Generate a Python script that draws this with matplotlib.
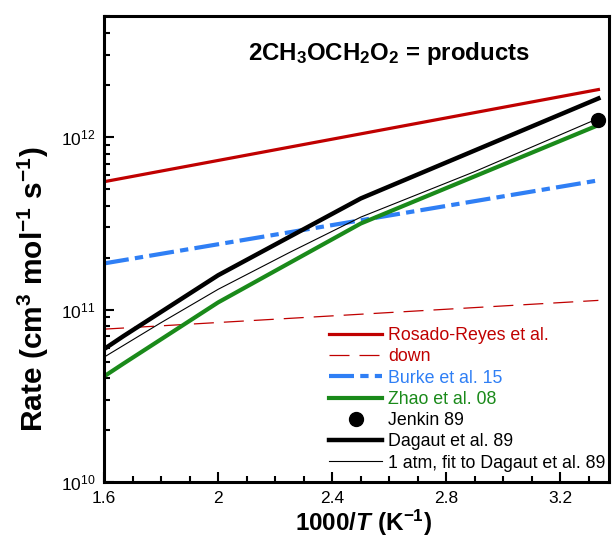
import matplotlib
matplotlib.use("Agg")
import matplotlib.pyplot as plt
from matplotlib.ticker import MultipleLocator, FixedLocator, LogLocator, NullFormatter, FuncFormatter

plt.rcParams['font.family'] = ['Liberation Sans', 'DejaVu Sans']
plt.rcParams['mathtext.fontset'] = 'custom'
plt.rcParams['mathtext.rm'] = 'Liberation Sans'
plt.rcParams['mathtext.it'] = 'Liberation Sans:italic'
plt.rcParams['mathtext.bf'] = 'Liberation Sans:bold'
plt.rcParams['mathtext.bfit'] = 'Liberation Sans:italic:bold'
plt.rcParams['mathtext.default'] = 'regular'

# 1000/T grid points (K^-1)
x_arr = [1.6, 3.333]
x_dag = [1.6, 1.667, 2.0, 2.5, 3.333]
x_fit = [1.6, 1.8, 2.0, 2.25, 2.5, 2.9, 3.333]

# rate constants, cm3 mol-1 s-1
k_rosado = [5.5e11, 1.88e12]
k_rosado_down = [7.7e10, 1.13e11]
k_burke = [1.85e11, 5.6e11]
k_zhao = [4.1e10, 4.85e10, 1.1e11, 3.15e11, 1.17e12]
k_dagaut = [5.9e10, 7.0e10, 1.58e11, 4.4e11, 1.67e12]
k_fit = [5.3e10, 8.4e10, 1.31e11, 2.14e11, 3.43e11, 6.3e11, 1.28e12]
x_jenkin = [3.333]
k_jenkin = [1.26e12]

red = '#c00000'
blue = '#2f7ff5'
green = '#1a8a1a'

fig = plt.figure(figsize=(6.12, 5.4), dpi=100)
ax = fig.add_axes([0.170, 0.107, 0.825, 0.863])

ax.plot(x_arr, k_rosado, color=red, lw=2.3, label='Rosado-Reyes et al.')
ax.plot(x_arr, k_rosado_down, color=red, lw=0.9, dashes=(16, 8), label='down')
ax.plot(x_arr, k_burke, color=blue, lw=3.0, dashes=(6, 1.5, 2, 1.5), label='Burke et al. 15')
ax.plot(x_dag, k_zhao, color=green, lw=3.0, label='Zhao et al. 08')
ax.plot(x_jenkin, k_jenkin, 'o', color='black', ms=10, label='Jenkin 89')
ax.plot(x_dag, k_dagaut, color='black', lw=3.2, label='Dagaut et al. 89')
ax.plot(x_fit, k_fit, color='black', lw=0.8, label='1 atm, fit to Dagaut et al. 89')

ax.set_yscale('log')
ax.set_xlim(1.6, 3.37)
ax.set_ylim(1e10, 5e12)

ax.xaxis.set_major_locator(FixedLocator([1.6, 2.0, 2.4, 2.8, 3.2]))
ax.xaxis.set_minor_locator(MultipleLocator(0.1))
ax.xaxis.set_major_formatter(FuncFormatter(lambda v, p: '%g' % v))
ax.yaxis.set_major_locator(LogLocator(base=10, numticks=10))
ax.yaxis.set_minor_locator(LogLocator(base=10, subs=range(2, 10), numticks=10))
ax.yaxis.set_minor_formatter(NullFormatter())

ax.tick_params(which='both', direction='in', top=False, right=False, width=1.5,
               labelsize=12.5, pad=6)
ax.tick_params(which='major', length=7)
ax.tick_params(which='minor', length=4.5)
for s in ax.spines.values():
    s.set_linewidth(2.2)

ax.set_xlabel(r'1000/$\mathbfit{T}$ (K$^{-1}$)', fontsize=17.5, fontweight='bold')
ax.xaxis.set_label_coords(0.514, -0.055)
ax.set_ylabel(r'Rate (cm$^3$ mol$^{-1}$ s$^{-1}$)', fontsize=21.5, fontweight='bold')
ax.yaxis.set_label_coords(-0.105, 0.413)

ax.text(2.6, 3.05e12, r'2CH$_3$OCH$_2$O$_2$ = products', ha='center', va='center',
        fontsize=17.3, fontweight='bold')

leg = ax.legend(loc='lower right', bbox_to_anchor=(0.996, 0.019), frameon=False,
                fontsize=12.8, handlelength=3.0, handletextpad=0.3, labelspacing=0.24,
                borderpad=0.1, borderaxespad=0)
text_colors = [red, red, blue, green, 'black', 'black', 'black']
for t, c in zip(leg.get_texts(), text_colors):
    t.set_color(c)

fig.savefig('out.png', dpi=100)
